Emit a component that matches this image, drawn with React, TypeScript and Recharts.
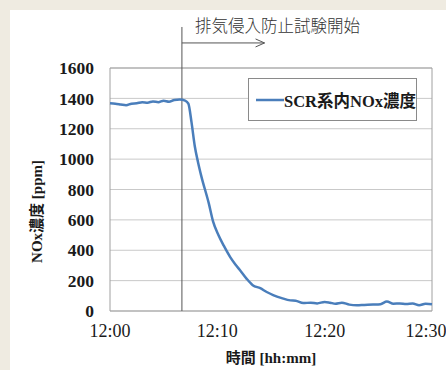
import React from "react";
import {
  LineChart,
  Line,
  XAxis,
  YAxis,
  CartesianGrid,
  ReferenceLine,
  ReferenceArea,
  Legend,
} from "recharts";

// time in minutes after 12:00
const minutes = [
  0, 0.5, 1, 1.5, 2, 2.5, 3, 3.5, 4, 4.5, 5, 5.5, 6, 6.5, 7, 7.3, 7.6, 7.9, 8.2, 8.5,
  9.2, 9.6, 10.1, 10.6, 11.2, 11.7, 12.1, 12.7, 13.3, 14, 14.6, 15.2, 16, 16.8, 17.3,
  18, 18.7, 19.3, 20, 20.5, 21, 21.6, 22.3, 23, 23.7, 24.5, 25.2, 25.8, 26.4, 27,
  27.6, 28.2, 28.8, 29.4, 30,
];
const noxPpm = [
  1368, 1365, 1360, 1355, 1365, 1368, 1375, 1372, 1380, 1375, 1385, 1378, 1390, 1392,
  1385, 1365, 1240, 1085, 980, 890, 710, 590, 500, 430, 355, 305, 270, 215, 170, 150,
  125, 105, 85, 70, 68, 52, 55, 50, 60, 55, 48, 55, 42, 38, 40, 42, 45, 62, 48, 50, 46,
  50, 38, 48, 45,
];
const xTicks = [0, 10, 20, 30];
const xTickLabels = ["12:00", "12:10", "12:20", "12:30"];
const yTicks = [0, 200, 400, 600, 800, 1000, 1200, 1400, 1600];
const seriesName = "SCR系内NOx濃度";
const annotationText = "排気侵入防止試験開始";
const testStart = 6.7;
const arrowEnd = 14.4;
const lineTop = 1870;
const arrowLevel = 1765;

const data = minutes.map((t, i) => ({ t, v: noxPpm[i] }));

const SERIF = "'Liberation Serif', 'Times New Roman', 'Noto Sans CJK JP', serif";

const ArrowShape = (p: any) => {
  const x1 = p.x1 ?? p.points?.[0]?.x;
  const y1 = p.y1 ?? p.points?.[0]?.y;
  const x2 = p.x2 ?? p.points?.[1]?.x;
  const y2 = p.y2 ?? p.points?.[1]?.y;
  return (
    <g>
      <line x1={x1} y1={y1} x2={x2} y2={y2} stroke="#555" strokeWidth={1} />
      <polyline
        points={`${x2 - 9},${y2 - 4} ${x2},${y2} ${x2 - 9},${y2 + 4}`}
        fill="none"
        stroke="#555"
        strokeWidth={1}
      />
      <text
        x={x1 + 13}
        y={y1 - 15}
        fontFamily="'Noto Sans CJK JP', sans-serif"
        fontWeight={300}
        fontSize={16.5}
        fill="#333"
        dominantBaseline="middle"
      >
        {annotationText}
      </text>
    </g>
  );
};

const XTick = (p: any) => {
  const { x, y, payload, index } = p;
  const label = xTickLabels[xTicks.indexOf(payload.value)];
  const shift = index === xTicks.length - 1 ? -6 : 0;
  return (
    <text
      x={x + shift}
      y={y}
      dy="0.71em"
      textAnchor="middle"
      fontFamily={SERIF}
      fontSize={18}
      fill="#1a1a1a"
    >
      {label}
    </text>
  );
};

const LegendContent = () => (
  <div
    style={{
      width: 167,
      height: 41,
      border: "1px solid #8a8a8a",
      background: "#fff",
      display: "flex",
      alignItems: "center",
      boxSizing: "content-box",
    }}
  >
    <svg width={34} height={10} style={{ marginLeft: 6 }}>
      <line x1={1} y1={5} x2={30} y2={5} stroke="#4a7ebb" strokeWidth={2.5} />
    </svg>
    <span
      style={{
        fontFamily: SERIF,
        fontWeight: "bold",
        fontSize: 16.5,
        color: "#1a1a1a",
        whiteSpace: "nowrap",
      }}
    >
      {seriesName}
    </span>
  </div>
);

export default function App() {
  return (
    <div
      style={{
        position: "absolute",
        left: 0,
        top: 0,
        width: 446,
        height: 370,
        background: "#efebe1",
        overflow: "hidden",
      }}
    >
      <div
        style={{
          position: "absolute",
          left: 10,
          top: 10,
          width: 436,
          height: 360,
          background: "#fff",
        }}
      />
      <div style={{ position: "absolute", left: 0, top: 0 }}>
        <LineChart
          width={446}
          height={370}
          data={data}
          margin={{ top: 68, right: 14, bottom: 29, left: 40 }}
        >
          <CartesianGrid vertical={false} stroke="#c9c9c9" strokeWidth={1} />
          <XAxis
            dataKey="t"
            type="number"
            domain={[0, 30]}
            ticks={xTicks}
            axisLine={false}
            tickLine={false}
            tickSize={0}
            tickMargin={13}
            height={30}
            interval={0}
            tick={<XTick />}
            label={{
              value: "時間 [hh:mm]",
              position: "insideBottom",
              offset: -22,
              style: { fontFamily: SERIF, fontWeight: "bold", fontSize: 15, fill: "#1a1a1a" },
            }}
          />
          <YAxis
            type="number"
            domain={[0, 1600]}
            ticks={yTicks}
            axisLine={false}
            tickLine={false}
            tickSize={0}
            tickMargin={16}
            width={70}
            interval={0}
            tick={{ fontFamily: SERIF, fontSize: 17.5, fontWeight: "bold", fill: "#1a1a1a" }}
            label={{
              value: "NOx濃度 [ppm]",
              angle: -90,
              position: "insideLeft",
              offset: -3,
              dy: 22,
              style: {
                fontFamily: SERIF,
                fontWeight: "bold",
                fontSize: 15,
                fill: "#1a1a1a",
                textAnchor: "middle",
              },
            }}
          />
          <ReferenceArea
            x1={0}
            x2={30}
            y1={0}
            y2={1600}
            fill="none"
            stroke="#a0a0a0"
            strokeWidth={1}
            ifOverflow="visible"
          />
          <Legend
            layout="vertical"
            verticalAlign="middle"
            align="center"
            content={<LegendContent />}
            wrapperStyle={{ left: 248, top: 78, width: 169 }}
          />
          <ReferenceLine
            segment={[
              { x: testStart, y: 0 },
              { x: testStart, y: lineTop },
            ]}
            ifOverflow="visible"
            stroke="#555"
            strokeWidth={1}
          />
          <ReferenceLine
            segment={[
              { x: testStart, y: arrowLevel },
              { x: arrowEnd, y: arrowLevel },
            ]}
            ifOverflow="visible"
            shape={ArrowShape}
          />
          <Line
            type="monotone"
            dataKey="v"
            name={seriesName}
            stroke="#4a7ebb"
            strokeWidth={2.5}
            dot={false}
            isAnimationActive={false}
          />
        </LineChart>
      </div>
    </div>
  );
}
